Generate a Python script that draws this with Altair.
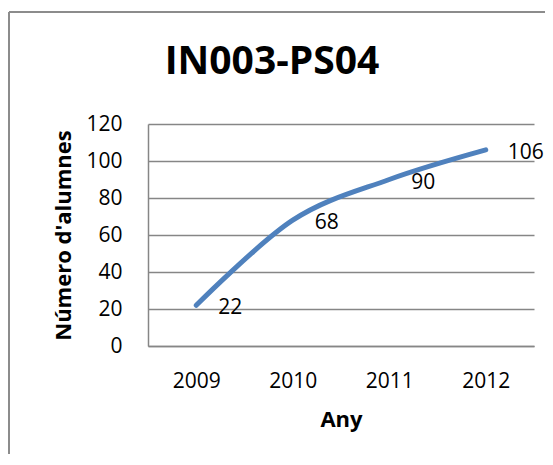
import altair as alt
import pandas as pd

years = ["2009", "2010", "2011", "2012"]
students = [22, 68, 90, 106]
y_ticks = [0, 20, 40, 60, 80, 100, 120]

df = pd.DataFrame({"Any": years, "Alumnes": students})

FONT = "Open Sans"
GRID = "#868686"

base = alt.Chart(df).encode(
    x=alt.X("Any:O", sort=years,
            scale=alt.Scale(type="point", padding=0.5),
            axis=alt.Axis(title="Any", labelAngle=0, ticks=False,
                          labelPadding=24, titlePadding=18,
                          domainColor=GRID, domainWidth=1.5, grid=False)),
    y=alt.Y("Alumnes:Q", scale=alt.Scale(domain=[0, 120], nice=False),
            axis=alt.Axis(title="Número d'alumnes", values=y_ticks, ticks=False,
                          labelPadding=26, titlePadding=10,
                          domainColor=GRID, domainWidth=1.5,
                          gridColor=GRID, gridWidth=1.5)),
)

line = base.mark_line(color="#4F81BD", strokeWidth=5, interpolate="cardinal",
                      strokeCap="round")
labels = base.mark_text(align="left", baseline="middle", dx=22, dy=3,
                        fontSize=21, font=FONT, color="#000000").encode(
    text="Alumnes:Q")

# outer chart frame (decoration)
frame_top = alt.Chart(df).mark_rule(color="#8c8c8c", strokeWidth=2).encode(
    x=alt.value(-139), x2=alt.value(420), y=alt.value(-112))
frame_left = alt.Chart(df).mark_rule(color="#8c8c8c", strokeWidth=2).encode(
    x=alt.value(-139), y=alt.value(-112), y2=alt.value(400))

chart = alt.layer(frame_top, frame_left, line, labels).properties(
    width=386, height=222,
    autosize=alt.AutoSizeParams(type="none"),
    padding={"left": 140, "top": 116, "right": 11, "bottom": 108},
    background="white",
    title=alt.TitleParams("IN003-PS04", fontSize=39, font=FONT, fontWeight="bold",
                          anchor="middle", frame="group", baseline="alphabetic",
                          offset=-102, dx=-69, color="#000000"),
).configure_view(stroke=None).configure_axis(
    labelFont=FONT, labelFontSize=21, labelColor="#000000",
    titleFont=FONT, titleFontSize=22, titleFontWeight="bold", titleColor="#000000",
)

chart.save("out.html", embed_options={"renderer": "svg", "actions": False})
